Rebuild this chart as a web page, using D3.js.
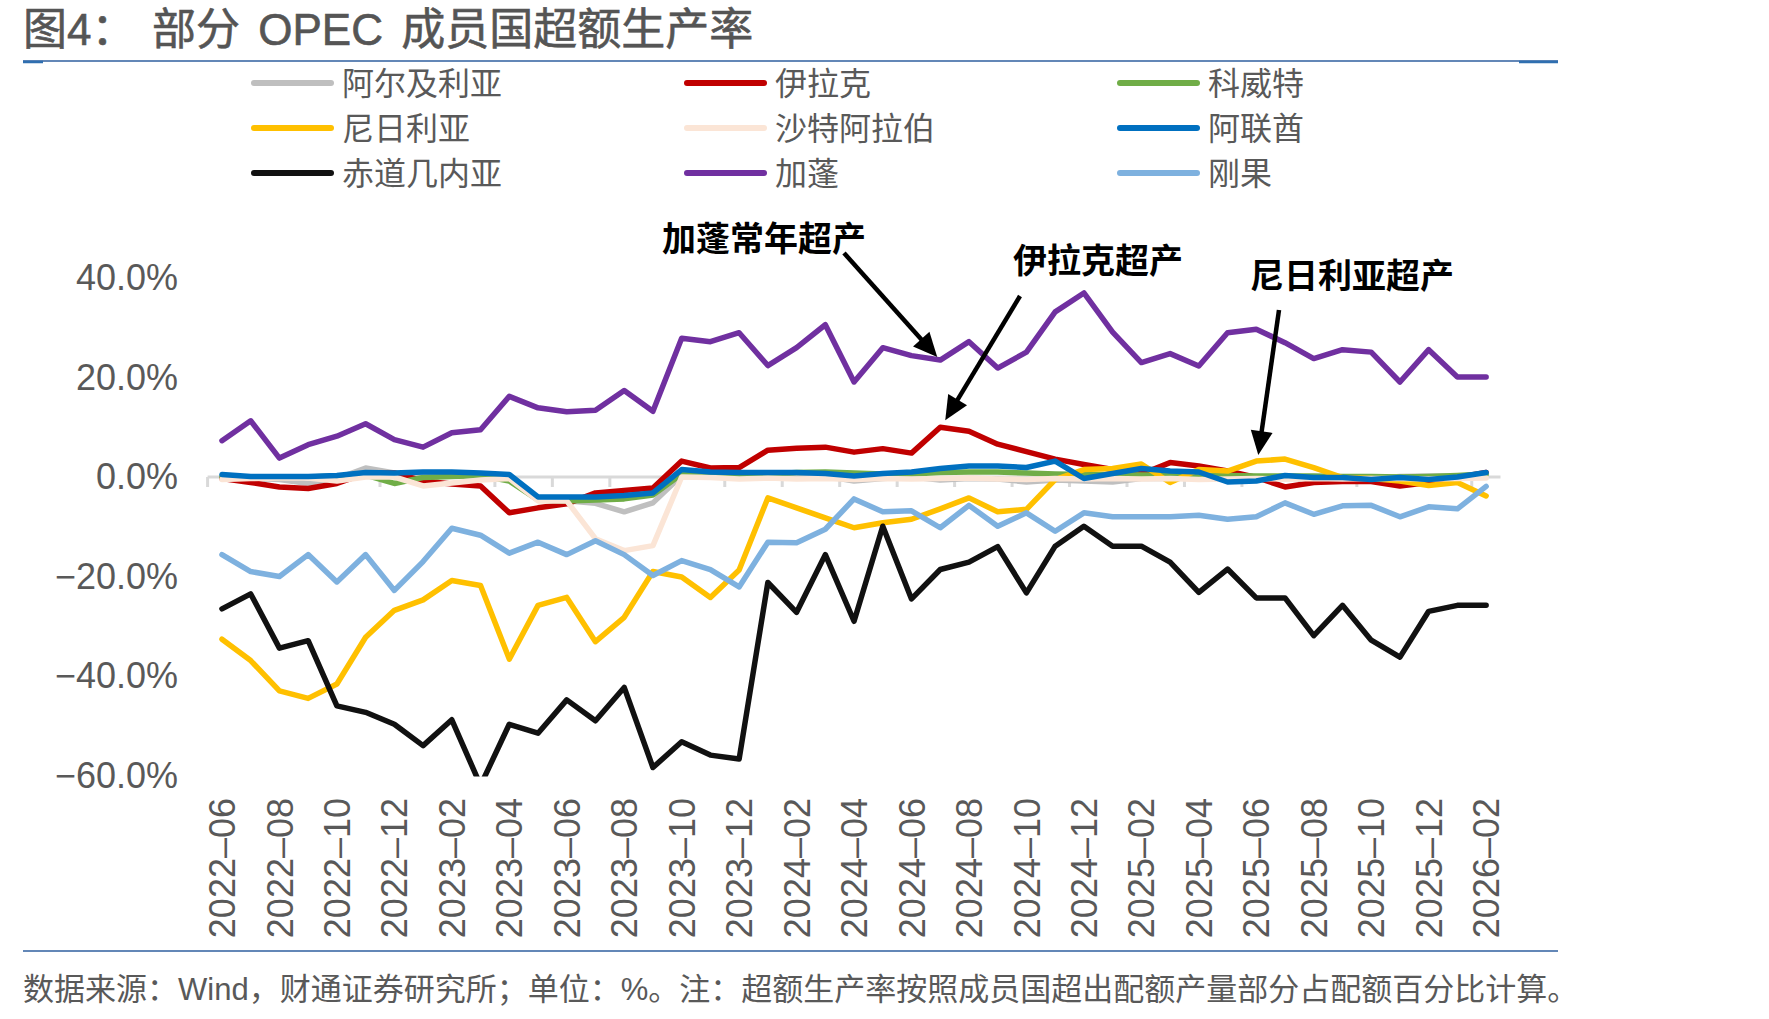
<!DOCTYPE html>
<html>
<head>
<meta charset="utf-8">
<script src="https://cdn.jsdelivr.net/npm/d3@7"></script>
<style>
body{margin:0;background:#fff;}
text{font-family:"Liberation Sans","Noto Sans CJK SC",sans-serif;}
</style>
</head>
<body>
<div id="chart"></div>
<script>
var months = ["2022-06","2022-07","2022-08","2022-09","2022-10","2022-11","2022-12",
    "2023-01","2023-02","2023-03","2023-04","2023-05","2023-06","2023-07","2023-08","2023-09","2023-10","2023-11","2023-12",
    "2024-01","2024-02","2024-03","2024-04","2024-05","2024-06","2024-07","2024-08","2024-09","2024-10","2024-11","2024-12",
    "2025-01","2025-02","2025-03","2025-04","2025-05","2025-06","2025-07","2025-08","2025-09","2025-10","2025-11","2025-12",
    "2026-01","2026-02"];

// 超额生产率, %
var algeria = [0.0,-0.2,-0.5,-1.3,-0.3,1.8,0.8,0.2,0.3,0.3,-0.3,-4.6,-4.8,-5.3,-7.0,-5.2,0.3,0.2,0.0,
    0.3,-0.2,0.2,-0.8,-0.3,0.0,-0.6,-0.3,-0.4,-1.0,-0.6,-0.8,-1.0,-0.3,-0.3,-0.2,-0.3,-0.2,-0.3,-0.3,-0.2,-0.3,0.1,0.2,0.2,0.6];
var iraq = [-0.3,-1.1,-2.0,-2.3,-1.3,0.7,0.8,-0.8,-1.4,-1.8,-7.2,-6.2,-5.4,-3.2,-2.7,-2.2,3.2,1.8,1.9,
    5.4,5.8,6.0,5.0,5.7,4.8,10.0,9.2,6.6,5.1,3.6,2.5,1.5,0.6,2.9,2.2,1.2,-0.1,-2.0,-1.1,-0.9,-0.9,-1.8,-1.1,-0.1,0.9];
var kuwait = [0.0,0.0,-0.1,0.0,0.2,0.4,-1.3,-0.1,0.1,0.3,-0.8,-4.6,-4.8,-4.6,-4.4,-3.6,0.6,0.5,0.5,
    0.6,0.9,1.0,0.8,0.6,0.6,0.9,1.0,1.0,0.8,0.6,0.5,0.5,0.4,0.4,0.3,0.3,0.2,0.2,0.2,0.1,0.1,0.0,0.1,0.3,0.6];
var nigeria = [-32.6,-36.9,-43.0,-44.5,-41.6,-32.2,-26.8,-24.7,-20.8,-21.8,-36.6,-25.8,-24.2,-33.1,-28.2,-19.0,-20.1,-24.2,-18.7,
    -4.2,-6.2,-8.2,-10.2,-9.2,-8.5,-6.4,-4.2,-7.0,-6.5,-0.5,1.5,1.7,2.6,-1.1,1.5,1.2,3.2,3.6,1.9,-0.1,-0.3,-0.8,-1.7,-1.1,-3.8];
var saudi = [-0.5,-0.3,-0.2,-0.2,-0.8,0.0,0.0,-1.8,-1.2,-0.6,-0.3,-4.8,-4.8,-12.4,-14.8,-13.8,0.0,-0.1,-0.4,
    -0.2,-0.4,-0.3,-0.5,-0.3,-0.4,-0.3,-0.2,-0.4,-0.5,-0.3,-0.4,-0.3,-0.4,-0.3,-0.5,-0.4,-0.3,-0.4,-0.3,-0.4,-0.3,-0.3,-0.4,-0.3,-0.2];
var uae = [0.5,0.1,0.1,0.1,0.3,0.9,0.8,1.0,1.0,0.8,0.5,-4.0,-4.0,-4.0,-3.7,-3.2,1.5,1.0,0.9,
    0.9,0.9,0.7,0.2,0.7,1.0,1.7,2.2,2.2,1.9,3.2,-0.3,0.7,1.7,1.2,1.0,-1.0,-0.8,0.3,-0.1,-0.1,-0.5,-0.1,-0.5,0.0,0.9];
var eqGuinea = [-26.5,-23.5,-34.4,-32.9,-46.0,-47.3,-49.7,-54.0,-48.8,-62.0,-49.7,-51.5,-44.8,-49.0,-42.3,-58.4,-53.2,-55.9,-56.7,
    -21.2,-27.2,-15.6,-29.0,-9.9,-24.5,-18.6,-17.1,-14.0,-23.3,-13.9,-9.9,-13.9,-13.9,-17.1,-23.2,-18.5,-24.3,-24.3,-31.9,-25.8,-32.8,-36.2,-27.0,-25.8,-25.8];
var gabon = [7.3,11.3,3.8,6.5,8.2,10.7,7.5,6.0,8.9,9.5,16.2,13.9,13.1,13.4,17.4,13.2,27.9,27.2,29.0,
    22.4,26.0,30.6,19.1,26.0,24.4,23.5,27.2,21.9,25.1,33.2,37.0,29.1,23.0,24.8,22.3,29.0,29.7,27.0,23.8,25.6,25.1,19.1,25.6,20.1,20.1];
var congo = [-15.6,-19.0,-20.0,-15.6,-21.1,-15.6,-22.8,-17.0,-10.3,-11.7,-15.3,-13.1,-15.6,-12.8,-15.6,-19.8,-16.8,-18.6,-22.1,
    -13.1,-13.2,-10.5,-4.4,-7.0,-6.8,-10.2,-5.7,-9.9,-7.2,-10.9,-7.2,-8.0,-8.0,-8.0,-7.7,-8.5,-8.0,-5.2,-7.5,-5.8,-5.7,-8.0,-6.0,-6.4,-1.9];

var seriesNames = ["阿尔及利亚","伊拉克","科威特","尼日利亚","沙特阿拉伯","阿联酋","赤道几内亚","加蓬","刚果"];
var seriesValues = [algeria, iraq, kuwait, nigeria, saudi, uae, eqGuinea, gabon, congo];
var seriesColors = ["#BFBFBF","#C00000","#70AD47","#FFC000","#FBE5D6","#0070C0","#111111","#7030A0","#7EB1DF"];

var yTicks = [40, 20, 0, -20, -40, -60];

function init() {

    var w=1769;
    var h=1019;

    var svg=d3.select("#chart")
              .append("svg")
              .attr("width",w)
              .attr("height",h);

    svg.append("rect").attr("width",w).attr("height",h).attr("fill","#fff");

    var xscale=d3.scalePoint()
                .domain(months)
                .range([207.6,1500.5])
                .padding(0.5);
    var step=xscale.step();

    var yscale=d3.scaleLinear()
                .domain([-60,40])
                .range([775.5,278]);

    // title
    svg.append("text")
        .attr("x",23).attr("y",29).attr("dy","0.36em")
        .attr("font-size",44).attr("fill","#555")
        .attr("stroke","#555").attr("stroke-width",0.6)
        .text("图4：");
    svg.append("text")
        .attr("x",152).attr("y",29).attr("dy","0.36em")
        .attr("font-size",44).attr("fill","#555")
        .attr("stroke","#555").attr("stroke-width",0.6)
        .attr("word-spacing",6)
        .text("部分 OPEC 成员国超额生产率");

    // rules
    svg.append("line").attr("x1",23).attr("x2",1558).attr("y1",61).attr("y2",61)
        .attr("stroke","#2F5F9F").attr("stroke-width",1.5);
    svg.append("line").attr("x1",23).attr("x2",43).attr("y1",62).attr("y2",62)
        .attr("stroke","#2F6FB0").attr("stroke-width",2.5);
    svg.append("line").attr("x1",1519).attr("x2",1558).attr("y1",62).attr("y2",62)
        .attr("stroke","#2F6FB0").attr("stroke-width",2.5);
    svg.append("line").attr("x1",23).attr("x2",1558).attr("y1",951).attr("y2",951)
        .attr("stroke","#2F5F9F").attr("stroke-width",1.5);

    // legend
    var legX=[251,684,1117];
    var legY=[83,128,173];
    var leg=svg.selectAll(".leg")
        .data(seriesNames)
        .enter()
        .append("g")
        .attr("class","leg")
        .attr("transform",function(d,i){
            return "translate("+legX[i%3]+","+legY[Math.floor(i/3)]+")";
        });
    leg.append("line")
        .attr("x1",3).attr("x2",80).attr("y1",0).attr("y2",0)
        .attr("stroke",function(d,i){ return seriesColors[i]; })
        .attr("stroke-width",6)
        .attr("stroke-linecap","round");
    leg.append("text")
        .attr("x",91).attr("y",0).attr("dy","0.36em")
        .attr("font-size",32).attr("fill","#595959")
        .text(function(d){ return d; });

    // y axis
    var yAxis=d3.axisLeft(yscale)
                .tickValues(yTicks)
                .tickSize(0)
                .tickPadding(0)
                .tickFormat(function(d){ return d3.format(".1f")(d)+"%"; });
    var gy=svg.append("g")
        .attr("transform","translate(178,0)")
        .call(yAxis);
    gy.select(".domain").remove();
    gy.attr("font-size",36).attr("color","#595959");

    // x axis (labels every 2 months)
    var labelMonths=months.filter(function(d,i){ return i%2==0; });
    var xAxis=d3.axisBottom(xscale)
                .tickValues(labelMonths)
                .tickSize(0)
                .tickFormat(function(d){ return d.replace("-","–"); });
    var gx=svg.append("g")
        .attr("transform","translate(0,"+yscale(0)+")")
        .call(xAxis);
    gx.select(".domain").remove();
    gx.attr("font-size",36).attr("color","#595959");
    gx.selectAll("text")
        .attr("transform","rotate(-90)")
        .attr("text-anchor","end")
        .attr("x",-(798-yscale(0)))
        .attr("y",0)
        .attr("dy","0.35em");

    // zero line with tick marks between categories
    svg.append("line")
        .attr("x1",xscale(months[0])-step/2)
        .attr("x2",xscale(months[months.length-1])+step/2)
        .attr("y1",yscale(0)).attr("y2",yscale(0))
        .attr("stroke","#D9D9D9").attr("stroke-width",3);
    svg.selectAll(".xtick")
        .data(labelMonths)
        .enter()
        .append("line")
        .attr("class","xtick")
        .attr("x1",function(d){ return xscale(d)-step/2; })
        .attr("x2",function(d){ return xscale(d)-step/2; })
        .attr("y1",yscale(0)).attr("y2",yscale(0)+10)
        .attr("stroke","#D9D9D9").attr("stroke-width",3);

    // series
    svg.append("clipPath").attr("id","plot")
        .append("rect").attr("x",150).attr("y",200).attr("width",1400).attr("height",yscale(-60)-200+1);

    var line=d3.line()
        .x(function(d,i){ return xscale(months[i]); })
        .y(function(d){ return yscale(d); });

    svg.append("g")
        .attr("clip-path","url(#plot)")
        .selectAll("path")
        .data(seriesValues)
        .enter()
        .append("path")
        .attr("d",line)
        .attr("fill","none")
        .attr("stroke",function(d,i){ return seriesColors[i]; })
        .attr("stroke-width",5.5)
        .attr("stroke-linejoin","round")
        .attr("stroke-linecap","round");

    // annotations
    var notes=[
        {text:"加蓬常年超产", tx:662, ty:239, sx:844, sy:253, m:25, v:gabon[25], dx:-3, dy:-3},
        {text:"伊拉克超产", tx:1013, ty:261, sx:1020, sy:296, m:25, v:iraq[25], dx:5, dy:-7},
        {text:"尼日利亚超产", tx:1250, ty:276, sx:1279, sy:310, m:36, v:nigeria[36], dx:2, dy:-6}
    ];
    notes.forEach(function(n){
        svg.append("text")
            .attr("x",n.tx).attr("y",n.ty).attr("dy","0.36em")
            .attr("font-size",34).attr("font-weight","bold").attr("fill","#000")
            .text(n.text);
        var ex=xscale(months[n.m])+n.dx, ey=yscale(n.v)+n.dy;
        var len=Math.sqrt((ex-n.sx)*(ex-n.sx)+(ey-n.sy)*(ey-n.sy));
        var ux=(ex-n.sx)/len, uy=(ey-n.sy)/len;
        var bx=ex-ux*24, by=ey-uy*24;
        svg.append("line")
            .attr("x1",n.sx).attr("y1",n.sy).attr("x2",bx+ux*2).attr("y2",by+uy*2)
            .attr("stroke","#000").attr("stroke-width",4.5);
        svg.append("path")
            .attr("d","M"+ex+","+ey+"L"+(bx-uy*11)+","+(by+ux*11)+"L"+(bx+uy*11)+","+(by-ux*11)+"Z")
            .attr("fill","#000");
    });

    // source
    svg.append("text")
        .attr("x",23).attr("y",989).attr("dy","0.36em")
        .attr("font-size",31).attr("fill","#595959")
        .text("数据来源：Wind，财通证券研究所；单位：%。注：超额生产率按照成员国超出配额产量部分占配额百分比计算。");

}

window.onload = init;
</script>
</body>
</html>
